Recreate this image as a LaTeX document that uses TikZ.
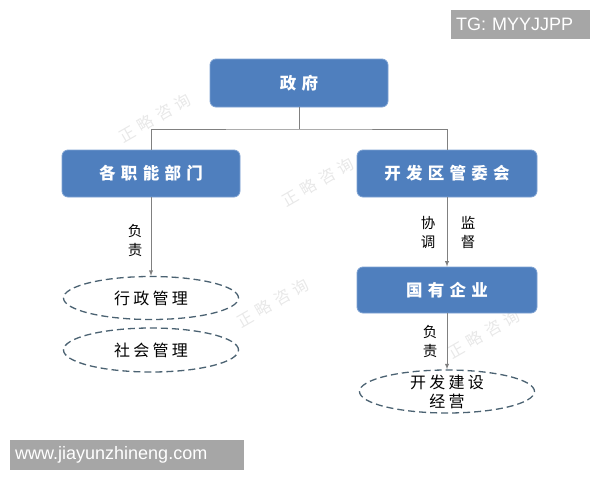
\documentclass[tikz,border=0pt]{standalone}
\usepackage{fontspec}
\usepackage{tikz}
\usetikzlibrary{shapes.geometric}
\usepackage{xcolor}
\newfontfamily\cjk{Noto Sans CJK SC}
\newfontfamily\cjkbox[LetterSpace=32]{Noto Sans CJK SC}
\newfontfamily\cjkoval[LetterSpace=20]{Noto Sans CJK SC}
\newfontfamily\tagfont{Liberation Sans}
\definecolor{boxblue}{HTML}{4F7FBE}
\definecolor{boxedge}{HTML}{7EA2D2}
\definecolor{linegray}{HTML}{808080}
\definecolor{ovaledge}{HTML}{4B6272}
\definecolor{taggray}{HTML}{A6A6A6}

\tikzset{
  unit/.style={draw=boxedge,fill=boxblue,rounded corners=6pt,line width=0.8pt,text=white,
    minimum width=178pt,minimum height=47pt,font=\cjkbox\bfseries\fontsize{16.5}{16.5}\selectfont},
  task/.style={ellipse,draw=ovaledge,dash pattern=on 7pt off 4pt,line width=1.3pt,
    minimum width=175pt,minimum height=43pt,inner sep=0pt,align=center,
    font=\cjkoval\fontsize{16}{19}\selectfont},
  link/.style={linegray,line width=0.9pt},
  duty/.style={font=\cjk\fontsize{14.5}{19}\selectfont,align=center,inner sep=0pt},
  tag/.style={fill=taggray,text=white,font=\tagfont\fontsize{18}{18}\selectfont,
    inner xsep=5pt,inner ysep=0pt,anchor=west,align=left},
  wmark/.style={text=black!9,rotate=30,font=\cjkbox\fontsize{16}{16}\selectfont}
}

\begin{document}
\begin{tikzpicture}[x=1pt,y=-1pt,>=latex]
  \useasboundingbox (0,0) rectangle (600,480);

  \foreach \wx/\wy [count=\i] in {155/118,318/182,273/303,484/334}
    \node[wmark] (wm\i) at (\wx,\wy) {正略咨询};

  \node[unit,minimum height=48pt] (gov) at (299,83) {政府};
  \node[unit] (dept) at (151,173.5) {各职能部门};
  \node[unit,minimum width=180pt] (zone) at (447,173.5) {开发区管委会};
  \node[unit,minimum width=180pt,minimum height=46pt] (soe) at (447,290) {国有企业};

  \node[task] (admin) at (151,298) {行政管理};
  \node[task,minimum height=44pt] (social) at (151,350) {社会管理};
  \node[task,inner ysep=-8pt] (build) at (447,391.5) {开发建设\\经营};

  \coordinate (split) at (299,129);
  \draw[link] (gov) -- (split);
  \draw[link] (dept) |- (split) -| (zone);
  \draw[link,->] (dept) -- (admin);
  \draw[link,->] (zone) -- (soe);
  \draw[link,->] (soe) -- (build);

  \node[duty] (duty1) at (135,241) {负\\责};
  \node[duty] (coord) at (428,232.5) {协\\调};
  \node[duty] (super) at (468,232.5) {监\\督};
  \node[duty] (duty2) at (430,342) {负\\责};

  \node[tag,text width=129pt,minimum height=29pt] (tg) at (451,24.5) {TG: MYYJJPP};
  \node[tag,text width=224pt,minimum height=30pt] (site) at (10,455) {www.jiayunzhineng.com};
\end{tikzpicture}
\end{document}
